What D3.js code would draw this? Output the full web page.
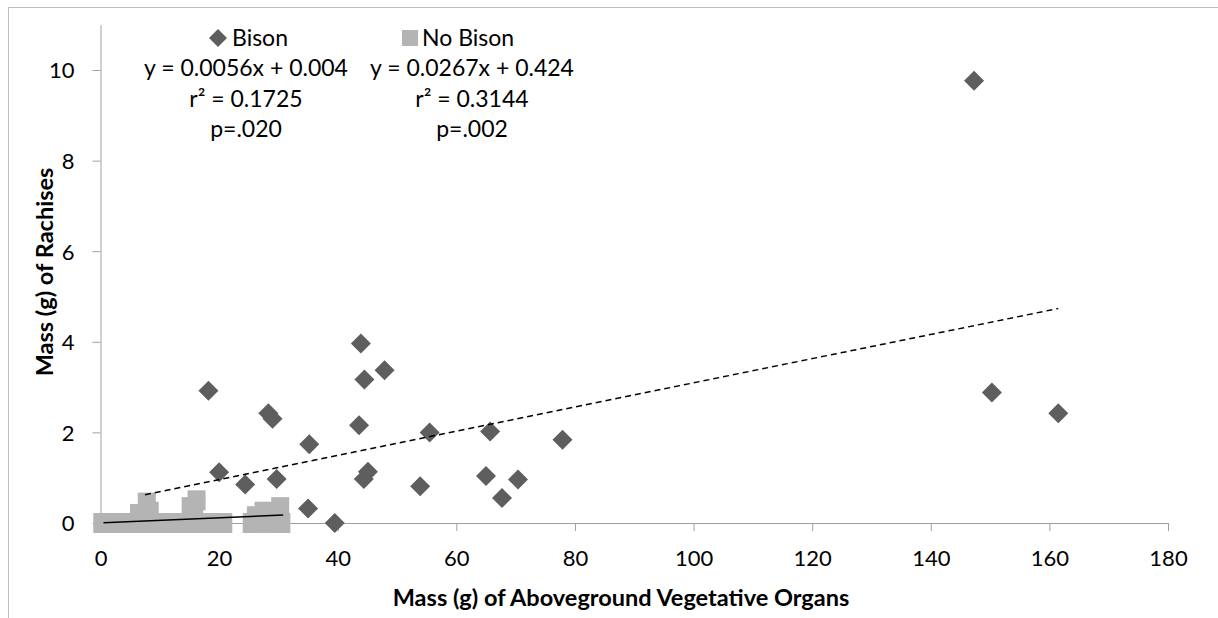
<!DOCTYPE html>
<html>
<head>
<meta charset="utf-8">
<script src="https://cdn.jsdelivr.net/npm/d3@7"></script>
<style>
  body { margin: 0; background: #fff; }
  svg { font-family: Lato, "Open Sans", sans-serif; }
  .axis path, .axis line { stroke: #a0a0a0; }
  .axis text { fill: #000; font-size: 22px; font-family: Lato, sans-serif; }
  .legend text { font-size: 23px; fill: #000; }
  .title { font-weight: bold; font-size: 23.5px; fill: #000; }
</style>
</head>
<body>
<div id="chart"></div>
<script>
	// Bison (diamonds)
	const bisonX = [ 18.2, 28.3, 29.0, 20.0, 35.2, 24.4, 29.7, 35.0, 39.5, 43.9, 44.5, 47.9, 43.6, 45.1, 44.4,
		55.5, 53.9, 65.7, 65.0, 67.7, 70.4, 77.9, 147.3, 150.3, 161.5 ];
	const bisonY = [ 2.92, 2.42, 2.30, 1.12, 1.74, 0.85, 0.97, 0.32, 0.00, 3.96, 3.17, 3.37, 2.16, 1.13, 0.97,
		2.00, 0.81, 2.02, 1.04, 0.55, 0.96, 1.84, 9.76, 2.88, 2.42 ];

	// No Bison (squares)
	const noBisonX = [ 0.3, 0.9, 1.6, 2.3, 3.0, 3.8, 4.5, 5.2, 6.0, 6.5, 7.5, 7.8, 8.3, 9.0, 10.0, 11.0, 12.0, 13.0,
		14.0, 15.0, 15.2, 15.8, 16.2, 17.0, 18.0, 19.0, 20.0, 20.7, 25.5, 26.2, 26.5, 27.5, 28.5, 28.8, 29.5, 30.3, 30.5 ];
	const noBisonY = [ 0, 0, 0, 0, 0, 0, 0, 0, 0, 0.2, 0, 0.45, 0.25, 0, 0, 0, 0, 0,
		0, 0, 0.35, 0.2, 0.5, 0, 0, 0, 0, 0, 0, 0.15, 0, 0.25, 0, 0.05, 0.1, 0.35, 0 ];

	// trendlines as printed on the chart
	const trendSolid = { slope: 0.0056, intercept: 0.004, from: 0.5, to: 30.8 };
	const trendDashed = { slope: 0.0267, intercept: 0.424, from: 7.5, to: 161.5 };

	const legendNames = [ "Bison", "No Bison" ];
	const legendEquations = [ "y = 0.0056x + 0.004", "y = 0.0267x + 0.424" ];
	const legendR2 = [ "r² = 0.1725", "r² = 0.3144" ];
	const legendP = [ "p=.020", "p=.002" ];

	const xTicks = d3.range(0, 181, 20);
	const yTicks = d3.range(0, 11, 2);

	const width = 1218;
	const height = 618;
	const margin = { top: 24.7, right: 50, bottom: 95, left: 100.5 };

	const diamondColor = "#5e5e5e";
	const squareColor = "#b4b4b4";

	const svg = d3.select("#chart")
					.append("svg")
						.attr("width", width)
						.attr("height", height);

	// chart border (only top and left visible in frame)
	svg.append("rect")
		.attr("x", 8.5)
		.attr("y", 7.5)
		.attr("width", width + 20)
		.attr("height", height + 20)
		.attr("fill", "none")
		.attr("stroke", "#bdbdbd");

	const x = d3.scaleLinear()
				.domain([0, 180])
				.range([margin.left, width - margin.right]);

	const y = d3.scaleLinear()
				.domain([0, 11])
				.range([height - margin.bottom, margin.top]);

	const xAxis = svg.append("g")
					.attr("class", "axis")
					.attr("transform", `translate(0, ${y(0)})`)
					.call(d3.axisBottom(x).tickValues(xTicks).tickSize(8).tickPadding(14).tickSizeOuter(0));

	const yAxis = svg.append("g")
					.attr("class", "axis")
					.attr("transform", `translate(${x(0)}, 0)`)
					.call(d3.axisLeft(y).tickValues(yTicks).tickSize(8).tickPadding(18).tickSizeOuter(0));

	xAxis.selectAll("text").attr("dy", "0.95em");
	yAxis.selectAll("text").attr("dy", "0.36em");

	// points
	const bison = d3.zip(bisonX, bisonY);
	const noBison = d3.zip(noBisonX, noBisonY);

	const diamond = d3.symbol().type(d3.symbolSquare).size(200);

	svg.append("g")
		.selectAll("path")
			.data(bison).enter()
		.append("path")
			.attr("d", diamond)
			.attr("transform", (d) => `translate(${x(d[0])}, ${y(d[1])})rotate(45)`)
			.attr("fill", diamondColor);

	svg.append("g")
		.selectAll("rect")
			.data(noBison).enter()
		.append("rect")
			.attr("x", (d) => x(d[0]) - 9)
			.attr("y", (d) => y(d[1]) - 10)
			.attr("width", 18)
			.attr("height", 20)
			.attr("fill", squareColor);

	// trendlines
	const trendLine = (t) => [ [t.from, t.slope * t.from + t.intercept], [t.to, t.slope * t.to + t.intercept] ];
	const line = d3.line().x((d) => x(d[0])).y((d) => y(d[1]));

	svg.append("path")
		.attr("d", line(trendLine(trendDashed)))
		.attr("stroke", "#000")
		.attr("stroke-width", 1.5)
		.attr("stroke-dasharray", "6,4")
		.attr("fill", "none");

	svg.append("path")
		.attr("d", line(trendLine(trendSolid)))
		.attr("stroke", "#000")
		.attr("stroke-width", 1.5)
		.attr("fill", "none");

	// legend block
	const legendCenters = [ 246, 472 ];
	const legend = svg.append("g").attr("class", "legend");

	const keys = legend.selectAll(".key")
					.data(legendNames).enter()
					.append("g")
						.attr("class", "key");

	keys.append("path")
		.attr("d", (d, i) => i === 0 ? d3.symbol().type(d3.symbolSquare).size(162)() : d3.symbol().type(d3.symbolSquare).size(256)())
		.attr("transform", (d, i) => i === 0 ? "translate(218, 38)rotate(45)" : "translate(410, 38)")
		.attr("fill", (d, i) => i === 0 ? diamondColor : squareColor);

	keys.append("text")
		.attr("x", (d, i) => i === 0 ? 232 : 422)
		.attr("y", 46)
		.text((d) => d);

	const rows = [ legendEquations, legendR2, legendP ];
	const rowY = [ 76, 107, 137 ];

	rows.forEach((row, r) => {
		legend.selectAll(null)
			.data(row).enter()
			.append("text")
				.attr("x", (d, i) => legendCenters[i])
				.attr("y", rowY[r])
				.attr("text-anchor", "middle")
				.text((d) => d);
	});

	// axis titles
	svg.append("text")
		.attr("class", "title")
		.attr("x", 621)
		.attr("y", 606)
		.attr("text-anchor", "middle")
		.text("Mass (g) of Aboveground Vegetative Organs");

	svg.append("text")
		.attr("class", "title")
		.attr("transform", "translate(53, 272)rotate(-90)")
		.attr("text-anchor", "middle")
		.text("Mass (g) of Rachises");
</script>
</body>
</html>
